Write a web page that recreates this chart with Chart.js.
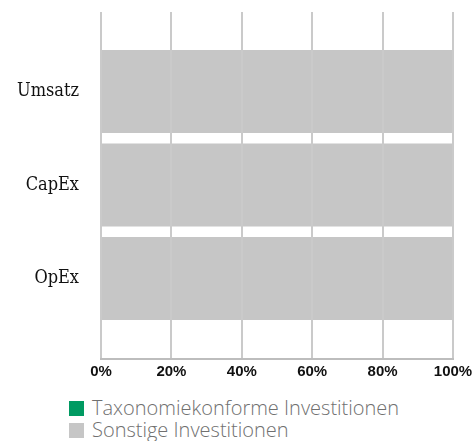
<!DOCTYPE html>
<html>
<head>
<meta charset="utf-8">
<script src="https://cdn.jsdelivr.net/npm/chart.js@4.4.1/dist/chart.umd.min.js"></script>
<style>
    body { margin: 0; background: #fff; }
    #wrap { position: relative; width: 472px; height: 441px; }
    #chart { position: absolute; left: 0; top: 0; }
    #legend {
        position: absolute; left: 69px; top: 397px;
        font-family: "Open Sans", sans-serif; font-weight: 300; font-size: 20px; color: #707070;
    }
    .item { display: flex; align-items: center; height: 22px; line-height: 22px; white-space: nowrap; }
    .box { width: 15px; height: 15px; margin-right: 8px; flex: none; }
</style>
</head>
<body>
<div id="wrap">
    <canvas id="chart" width="472" height="390"></canvas>
    <div id="legend"></div>
</div>
<script>
const categories = ["Umsatz", "CapEx", "OpEx"];
const seriesNames = ["Taxonomiekonforme Investitionen", "Sonstige Investitionen"];
const taxonomyValues = [0, 0, 0];
const otherValues = [100, 100, 100];
const xTicks = [0, 20, 40, 60, 80, 100];
const seriesColors = ["#009a62", "#c6c6c6"];

function toPoints(values) {
    return values.map((v, i) => ({ x: v, y: i }));
}

function drawLegend(whereToDraw) {
    const target = document.getElementById(whereToDraw);
    seriesNames.forEach((name, i) => {
        const row = document.createElement("div");
        row.classList.add("item");
        const box = document.createElement("span");
        box.classList.add("box");
        box.style.background = seriesColors[i];
        const label = document.createElement("span");
        label.innerText = name;
        row.append(box, label);
        target.appendChild(row);
    });
}

new Chart(document.getElementById("chart"), {
    type: "bar",
    data: {
        datasets: [
            { label: seriesNames[0], data: toPoints(taxonomyValues), backgroundColor: seriesColors[0], borderWidth: 0 },
            { label: seriesNames[1], data: toPoints(otherValues), backgroundColor: seriesColors[1], borderWidth: 0 },
        ],
    },
    options: {
        indexAxis: "y",
        responsive: false,
        animation: false,
        categoryPercentage: 1,
        barPercentage: 0.888,
        layout: { padding: { top: 12, right: 1 } },
        plugins: { legend: { display: false }, tooltip: { enabled: false } },
        scales: {
            x: {
                stacked: true,
                min: 0,
                max: 100,
                afterBuildTicks: (s) => { s.ticks = xTicks.map((v) => ({ value: v })); },
                afterFit: (s) => {
                    s.height = 31;
                    s.paddingLeft = 0;
                    s.paddingRight = 19;
                },
                grid: { color: "#cacaca", lineWidth: 2, drawTicks: false, z: 1 },
                border: { display: true, color: "#bdbdbd", width: 2, z: 1 },
                ticks: {
                    padding: 4,
                    color: "#111",
                    font: { family: "Liberation Sans", weight: "bold", size: 15 },
                    callback: (v) => v + "%",
                },
            },
            y: {
                type: "linear",
                stacked: true,
                reverse: true,
                offset: false,
                min: -0.85,
                max: 2.86,
                afterBuildTicks: (s) => { s.ticks = categories.map((c, i) => ({ value: i })); },
                afterFit: (s) => {
                    s.width = 101;
                    s.paddingTop = 0;
                    s.paddingBottom = 0;
                },
                grid: { display: false, drawTicks: false },
                border: { display: false },
                ticks: {
                    padding: 22,
                    color: "#111",
                    font: { family: "'DejaVu Serif Condensed', 'DejaVu Serif'", size: 18 },
                    callback: (v) => categories[v] ?? "",
                },
            },
        },
    },
});

drawLegend("legend");
</script>
</body>
</html>
